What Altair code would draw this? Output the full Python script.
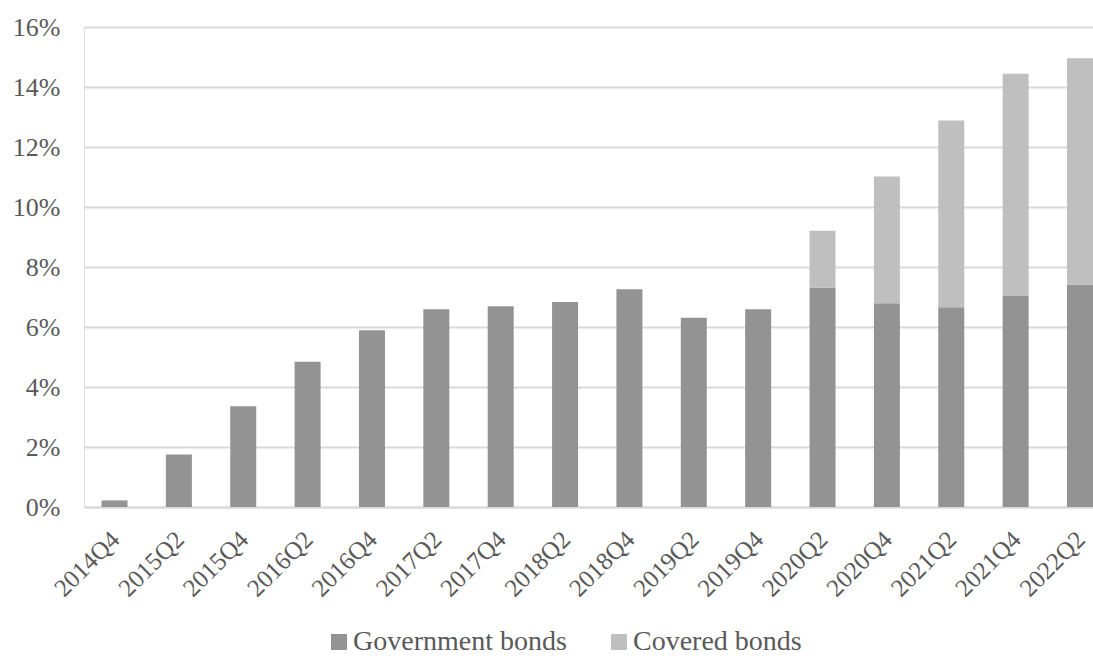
import altair as alt
import pandas as pd

quarters = ["2014Q4", "2015Q2", "2015Q4", "2016Q2", "2016Q4", "2017Q2", "2017Q4", "2018Q2",
            "2018Q4", "2019Q2", "2019Q4", "2020Q2", "2020Q4", "2021Q2", "2021Q4", "2022Q2"]
government = [0.22, 1.75, 3.36, 4.84, 5.89, 6.59, 6.69, 6.83,
              7.26, 6.31, 6.59, 7.31, 6.79, 6.66, 7.03, 7.41]
covered = [0, 0, 0, 0, 0, 0, 0, 0,
           0, 0, 0, 1.90, 4.23, 6.22, 7.41, 7.55]
series = ["Government bonds", "Covered bonds"]
colors = ["#939393", "#bfbfbf"]
y_ticks = [0, 0.02, 0.04, 0.06, 0.08, 0.10, 0.12, 0.14, 0.16]

rows = []
for q, g, c in zip(quarters, government, covered):
    rows.append({"quarter": q, "series": series[0], "value": g / 100, "order": 0})
    rows.append({"quarter": q, "series": series[1], "value": c / 100, "order": 1})
df = pd.DataFrame(rows)

FONT = "Liberation Serif"
TXT = "#595959"

chart = alt.Chart(df).mark_bar().encode(
    x=alt.X("quarter:N", sort=quarters, title=None,
            scale=alt.Scale(paddingInner=0.596, paddingOuter=0.136, align=1),
            axis=alt.Axis(labelAngle=-45, labelFont=FONT, labelFontSize=25, labelColor=TXT,
                          labelAlign="right", labelBaseline="middle",
                          ticks=False, domainColor="#d9d9d9", domainWidth=2,
                          labelPadding=28, labelOffset=1, grid=False)),
    y=alt.Y("value:Q", stack="zero", title=None,
            scale=alt.Scale(domain=[0, 0.16], nice=False),
            axis=alt.Axis(values=y_ticks, format=".0%", labelFont=FONT, labelFontSize=26,
                          labelColor=TXT, ticks=False, domain=False, labelPadding=24,
                          gridColor="#d9d9d9", gridWidth=2)),
    color=alt.Color("series:N", sort=series,
                    scale=alt.Scale(domain=series, range=colors),
                    legend=alt.Legend(title=None, orient="none", direction="horizontal",
                                      legendX=241, legendY=601, symbolType="square",
                                      symbolSize=256, symbolStrokeWidth=0, symbolOpacity=1,
                                      labelFont=FONT, labelFontSize=28, labelColor=TXT,
                                      labelLimit=400,
                                      columnPadding=38, symbolOffset=0, labelOffset=0)),
    order=alt.Order("order:Q", sort="ascending"),
).properties(
    width=1009, height=480,
    autosize=alt.AutoSizeParams(type="none"),
    padding={"left": 84, "top": 27, "right": 0, "bottom": 149},
).configure_view(stroke=None).configure(background="white")

chart.save("out.html", embed_options={"renderer": "svg", "actions": False})
